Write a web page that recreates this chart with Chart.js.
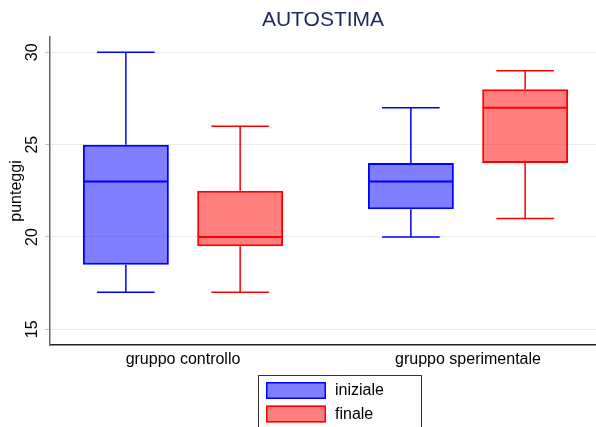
<!DOCTYPE html>
<html>
<head>
<meta charset="utf-8">
<title>AUTOSTIMA</title>
<script src="https://cdn.jsdelivr.net/npm/chart.js@4.4.1/dist/chart.umd.min.js"></script>
<style>
  html, body { margin: 0; padding: 0; background: #ffffff; }
  #wrap { width: 596px; height: 427px; }
</style>
</head>
<body>
<div id="wrap"><canvas id="chart" width="596" height="427"></canvas></div>
<script>
// Groups on the x axis and the two measurement times
const groups = ['gruppo controllo', 'gruppo sperimentale'];
const seriesNames = ['iniziale', 'finale'];
const yTicks = [15, 20, 25, 30];

// Box-plot summaries, one value per group
const inizialeMin    = [17, 20];
const inizialeQ1     = [18.5, 21.5];
const inizialeMedian = [23, 23];
const inizialeQ3     = [25, 24];
const inizialeMax    = [30, 27];

const finaleMin    = [17, 21];
const finaleQ1     = [19.5, 24];
const finaleMedian = [20, 27];
const finaleQ3     = [22.5, 28];
const finaleMax    = [26, 29];

const seriesStats = [
  { min: inizialeMin, q1: inizialeQ1, median: inizialeMedian, q3: inizialeQ3, max: inizialeMax },
  { min: finaleMin,   q1: finaleQ1,   median: finaleMedian,   q3: finaleQ3,   max: finaleMax }
];
const seriesStroke = ['#0000ff', '#ff0000'];
const seriesFill = ['rgba(0,0,255,0.5)', 'rgba(255,0,0,0.5)'];

Chart.defaults.font.family = "'Liberation Sans', Arial, Helvetica, sans-serif";
Chart.defaults.font.size = 16;
Chart.defaults.color = '#000000';

// Boxes are floating bars from Q1 to Q3
const datasets = seriesStats.map((s, k) => ({
  label: seriesNames[k],
  data: groups.map((g, i) => ({ x: i, y: [s.q1[i], s.q3[i]] })),
  backgroundColor: seriesFill[k],
  borderColor: seriesStroke[k],
  borderWidth: 2,
  borderSkipped: false,
  categoryPercentage: 0.802,
  barPercentage: 0.752
}));

// Whiskers, caps and median lines drawn on top of each box
const whiskerPlugin = {
  id: 'whiskers',
  afterDatasetsDraw(chart) {
    const ctx = chart.ctx;
    const ys = chart.scales.y;
    chart.data.datasets.forEach((ds, k) => {
      const meta = chart.getDatasetMeta(k);
      const s = seriesStats[k];
      meta.data.forEach((bar, i) => {
        const x = bar.x;
        const w = bar.width;
        const pMin = ys.getPixelForValue(s.min[i]);
        const pQ1 = ys.getPixelForValue(s.q1[i]);
        const pMed = ys.getPixelForValue(s.median[i]);
        const pQ3 = ys.getPixelForValue(s.q3[i]);
        const pMax = ys.getPixelForValue(s.max[i]);
        const cap = w * 0.67;
        ctx.save();
        ctx.strokeStyle = seriesStroke[k];
        ctx.lineWidth = 1.5;
        ctx.beginPath();
        ctx.moveTo(x, pQ3); ctx.lineTo(x, pMax);
        ctx.moveTo(x, pQ1); ctx.lineTo(x, pMin);
        ctx.moveTo(x - cap / 2, pMax); ctx.lineTo(x + cap / 2, pMax);
        ctx.moveTo(x - cap / 2, pMin); ctx.lineTo(x + cap / 2, pMin);
        ctx.stroke();
        ctx.lineWidth = 2;
        ctx.beginPath();
        ctx.moveTo(x - w / 2 + 1, pMed); ctx.lineTo(x + w / 2 - 1, pMed);
        ctx.stroke();
        ctx.restore();
      });
    });
  }
};

// Framed two-row legend under the plot
const boxLegendPlugin = {
  id: 'boxLegend',
  afterDraw(chart) {
    const ctx = chart.ctx;
    const left = 258, top = 375, width = 163;
    ctx.save();
    ctx.strokeStyle = '#333333';
    ctx.lineWidth = 1;
    ctx.strokeRect(left + 0.5, top + 0.5, width, 80);
    ctx.font = "16px 'Liberation Sans', Arial, Helvetica, sans-serif";
    ctx.textBaseline = 'middle';
    ctx.textAlign = 'left';
    chart.data.datasets.forEach((ds, k) => {
      const sy = top + 7 + k * 23.5;
      ctx.fillStyle = ds.backgroundColor;
      ctx.fillRect(left + 8, sy, 60, 17);
      ctx.strokeStyle = ds.borderColor;
      ctx.lineWidth = 1.5;
      ctx.strokeRect(left + 8.75, sy + 0.75, 58.5, 15.5);
      ctx.fillStyle = '#000000';
      ctx.fillText(ds.label, left + 77, sy + 9);
    });
    ctx.restore();
  }
};

new Chart(document.getElementById('chart'), {
  type: 'bar',
  data: { datasets },
  plugins: [whiskerPlugin, boxLegendPlugin],
  options: {
    responsive: false,
    animation: false,
    layout: { padding: { left: 0, right: 0, top: 0, bottom: 53 } },
    plugins: {
      legend: { display: false },
      tooltip: { enabled: false },
      title: {
        display: true,
        text: 'AUTOSTIMA',
        fullSize: false,
        color: '#1a2a5c',
        font: { size: 21, weight: 'normal' },
        padding: { top: 7.5, bottom: 4.3 }
      }
    },
    scales: {
      x: {
        type: 'linear',
        min: -0.4667,
        max: 1.4491,
        offset: false,
        afterBuildTicks: (scale) => { scale.ticks = groups.map((g, i) => ({ value: i })); },
        afterFit: (scale) => { scale.height = 29; },
        ticks: {
          autoSkip: false,
          maxRotation: 0,
          padding: 5,
          callback: (value) => groups[value]
        },
        grid: { display: false, drawTicks: false, offset: false },
        border: { display: true, color: '#222222', width: 1.5 }
      },
      y: {
        min: 14.15,
        max: 30.83,
        afterBuildTicks: (scale) => { scale.ticks = yTicks.map(v => ({ value: v })); },
        afterFit: (scale) => { scale.width = 50; },
        ticks: {
          minRotation: 90,
          maxRotation: 90,
          crossAlign: 'center',
          padding: 4,
          font: { size: 16, lineHeight: 1 }
        },
        grid: {
          color: '#e8eef1',
          lineWidth: 1,
          drawTicks: true,
          tickLength: 5,
          tickColor: '#b8c0c6'
        },
        border: { display: true, color: '#666666', width: 1.5 },
        title: {
          display: true,
          text: 'punteggi',
          font: { size: 16 },
          padding: { top: 7, bottom: 0 }
        }
      }
    }
  }
});
</script>
</body>
</html>
